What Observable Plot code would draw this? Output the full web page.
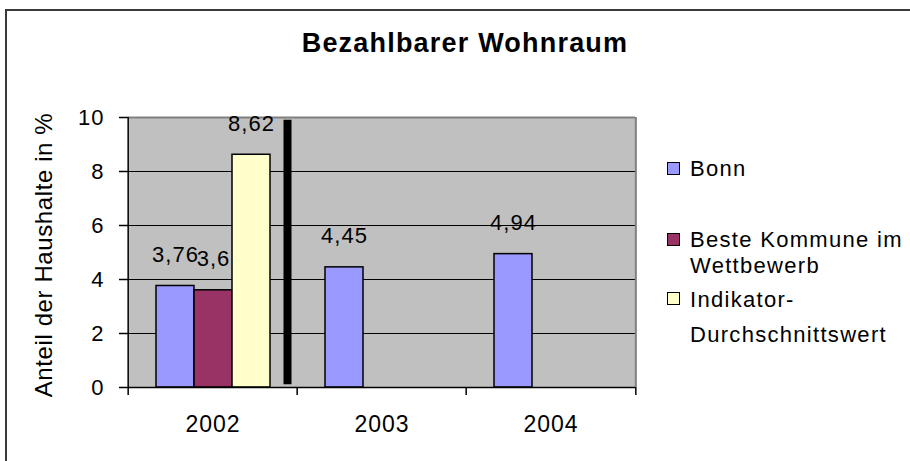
<!DOCTYPE html>
<html>
<head>
<meta charset="utf-8">
<script src="https://cdn.jsdelivr.net/npm/d3@7"></script>
<script src="https://cdn.jsdelivr.net/npm/@observablehq/plot@0.6"></script>
<style>
  html, body { margin: 0; padding: 0; background: #fff; overflow: hidden; }
  #chart { position: relative; width: 910px; height: 461px; overflow: hidden;
           font-family: "Liberation Sans", Arial, sans-serif; color: #000; }
  #border { position: absolute; left: 5px; top: 9px; width: 1000px; height: 1000px;
            border: 2px solid #3a3a3a; box-sizing: border-box; }
  #title { position: absolute; left: 0; width: 930px; top: 30px; text-align: center;
           font-weight: bold; font-size: 27px; line-height: 27px; letter-spacing: 1.2px; }
  #ylabel { position: absolute; left: 44px; top: 255px; font-size: 24px; line-height: 24px;
            letter-spacing: 0.6px; white-space: nowrap;
            transform: translate(-50%, -50%) rotate(-90deg); }
  #plot { position: absolute; left: 0; top: 0; }
  .legend-item { position: absolute; left: 667px; font-size: 22px; letter-spacing: 1.3px; }
  .legend-swatch { position: absolute; left: 0; width: 13px; height: 13px;
                   box-sizing: border-box; border: 1.5px solid #000; }
  .legend-text { position: absolute; left: 23px; white-space: nowrap; }
</style>
</head>
<body>
<div id="chart">
  <div id="border"></div>
  <div id="title">Bezahlbarer Wohnraum</div>
  <div id="plot"></div>
  <div id="ylabel"></div>
</div>
<script>
// ---- data ----
const years = ["2002", "2003", "2004"];
const seriesNames = ["Bonn", "Beste Kommune im Wettbewerb", "Indikator-Durchschnittswert"];
const bonnValues = [3.76, 4.45, 4.94];
const besteValues = [3.6, null, null];
const indikatorValues = [8.62, null, null];
const seriesColors = ["#9999FF", "#993366", "#FFFFCC"];
const yTicks = [0, 2, 4, 6, 8, 10];
const separatorYear = "2002";
const separatorSpan = [0.1, 9.9];
const legendLines = [["Bonn"], ["Beste Kommune im", "Wettbewerb"], ["Indikator-", "Durchschnittswert"]];
const yLabel = "Anteil der Haushalte in %";

// ---- table ----
const valuesBySeries = [bonnValues, besteValues, indikatorValues];
const rows = [];
seriesNames.forEach((s, si) => {
  years.forEach((y, yi) => {
    const v = valuesBySeries[si][yi];
    if (v != null) rows.push({year: y, series: s, value: v});
  });
});
const separator = [{year: separatorYear, y1: separatorSpan[0], y2: separatorSpan[1]}];
const fmt = v => String(v).replace(".", ",");

// ---- layout ----
const W = 910, H = 461;
const mL = 127, mR = 274, mT = 117, mB = 74;
const half = (W - mL - mR) / years.length / 2;

const chart = Plot.plot({
  width: W, height: H,
  marginLeft: mL, marginRight: mR, marginTop: mT, marginBottom: mB,
  style: {fontFamily: "'Liberation Sans', Arial, sans-serif", fontSize: "22px",
          color: "#000", background: "transparent", letterSpacing: "1px", overflow: "visible"},
  fx: {domain: years, padding: 0, label: null},
  x: {domain: seriesNames, paddingInner: 0, paddingOuter: 0.715, axis: null},
  y: {domain: [0, 10]},
  color: {domain: seriesNames, range: seriesColors},
  marks: [
    Plot.frame({fill: "#C0C0C0", stroke: "none", insetLeft: -0.6, insetRight: -0.6}),
    Plot.ruleY([2, 4, 6, 8], {stroke: "#000", strokeWidth: 1}),
    Plot.ruleY([10], {stroke: "#808080", strokeWidth: 2}),
    Plot.ruleX([years[years.length - 1]], {fx: d => d, x: null, dx: half, y1: 0, y2: 10, stroke: "#808080", strokeWidth: 2}),
    Plot.barY(rows, {fx: "year", x: "series", y: "value", fill: "series", stroke: "#000", strokeWidth: 1.5}),
    Plot.ruleX(separator, {fx: "year", x: null, y1: "y1", y2: "y2", dx: 74.5, stroke: "#000", strokeWidth: 8}),
    Plot.text(rows, {fx: "year", x: "series", y: "value", text: d => fmt(d.value),
                     lineAnchor: "bottom", dy: -24, fontSize: 22, fill: "#000"}),
    Plot.ruleY([0], {stroke: "#000", strokeWidth: 1.5}),
    Plot.ruleX(years, {fx: d => d, x: null, dx: -half, y1: 0, y2: 0, insetTop: 8, stroke: "#000", strokeWidth: 1.5}),
    Plot.ruleX([years[years.length - 1]], {fx: d => d, x: null, dx: half, y1: 0, y2: 0, insetTop: 8, stroke: "#000", strokeWidth: 1.5}),
    Plot.axisY({ticks: yTicks, tickSize: 9, tickPadding: 15, fontSize: 22, label: null, strokeWidth: 1.5}),
    Plot.ruleX([years[0]], {fx: d => d, x: null, dx: -half, y1: 0, y2: 10, stroke: "#000", strokeWidth: 1.5}),
    Plot.axisFx({anchor: "bottom", tickSize: 0, tickPadding: 28, fontSize: 23, label: null})
  ]
});
document.getElementById("plot").appendChild(chart);
document.getElementById("ylabel").textContent = yLabel;

// ---- legend (HTML) ----
const chartDiv = document.getElementById("chart");
const legendCenters = [168, 239, 298.5];
const legendLineHeights = [26, 26, 35];
seriesNames.forEach((s, i) => {
  const L = legendLineHeights[i];
  const item = document.createElement("div");
  item.className = "legend-item";
  item.style.top = (legendCenters[i] - L / 2 + 0.5) + "px";
  const sw = document.createElement("div");
  sw.className = "legend-swatch";
  sw.style.background = seriesColors[i];
  sw.style.top = (L / 2 - 7) + "px";
  item.appendChild(sw);
  const tx = document.createElement("div");
  tx.className = "legend-text";
  tx.style.lineHeight = L + "px";
  tx.innerHTML = legendLines[i].join("<br>");
  item.appendChild(tx);
  chartDiv.appendChild(item);
});
</script>
</body>
</html>
